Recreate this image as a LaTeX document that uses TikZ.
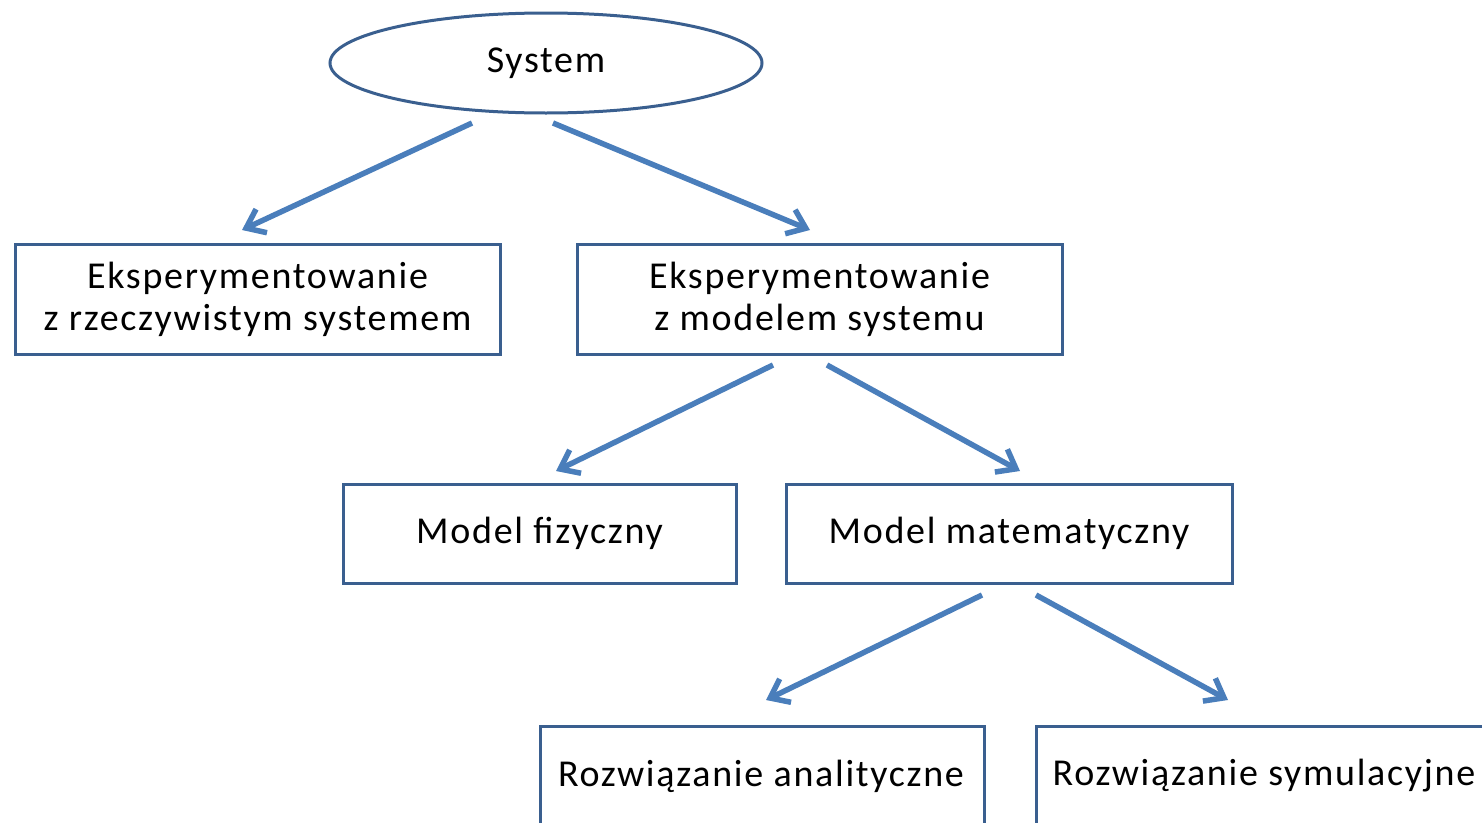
\documentclass[tikz,border=0pt]{standalone}
\usepackage{fontspec}
\setmainfont{Carlito}[LetterSpace=4.5]
\usetikzlibrary{arrows.meta,shapes.geometric,calc}
\definecolor{arrowblue}{HTML}{4A7EBB}
\definecolor{boxblue}{HTML}{3A5F8F}
\tikzset{
  lbl/.style={font=\fontsize{38}{42}\selectfont},
  box/.style={draw=boxblue,line width=3pt,rectangle,inner sep=0pt,align=center,lbl},
  conn/.style={draw=arrowblue,line width=5.5pt,-{Straight Barb[length=17pt,width=26pt,line width=5.5pt]}}
}
\begin{document}
\begin{tikzpicture}[x=1pt,y=-1pt]
\useasboundingbox (0,0) rectangle (1482,822);
\clip (0,0) rectangle (1482,822);
\node[draw=boxblue,line width=3pt,ellipse,minimum width=432pt,minimum height=100pt,inner sep=0pt,lbl] (sys) at (546,63) {System};
\node[box,minimum width=485pt,minimum height=110pt] (real) at (257.5,299) {Eksperymentowanie\\z rzeczywistym systemem};
\node[box,minimum width=485pt,minimum height=110pt] (model) at (819.5,299) {Eksperymentowanie\\z modelem systemu};
\node[box,minimum width=393pt,minimum height=99pt] (fiz) at (539.5,533.5) {Model fizyczny};
\node[box,minimum width=446pt,minimum height=99pt] (mat) at (1009,533.5) {Model matematyczny};
\node[box,minimum width=444pt,minimum height=100pt,anchor=north west] (anal) at (539,725) {};
\node[lbl] (analt) at (761,776) {Rozwiązanie analityczne};
\node[box,minimum width=460pt,minimum height=100pt,anchor=north west] (sym) at (1035,725) {};
\node[lbl] (symt) at (1264,776) {Rozwiązanie symulacyjne};
\coordinate (a1s) at (472,123); \coordinate (a1e) at (242,230);
\coordinate (a2s) at (553,123); \coordinate (a2e) at (810,230);
\coordinate (a3s) at (773,365); \coordinate (a3e) at (556,471);
\coordinate (a4s) at (827,365); \coordinate (a4e) at (1020,471);
\coordinate (a5s) at (982,595); \coordinate (a5e) at (766,700);
\coordinate (a6s) at (1036,595); \coordinate (a6e) at (1228,700);
\draw[conn] (a1s) -- (a1e);
\draw[conn] (a2s) -- (a2e);
\draw[conn] (a3s) -- (a3e);
\draw[conn] (a4s) -- (a4e);
\draw[conn] (a5s) -- (a5e);
\draw[conn] (a6s) -- (a6e);
\end{tikzpicture}
\end{document}
